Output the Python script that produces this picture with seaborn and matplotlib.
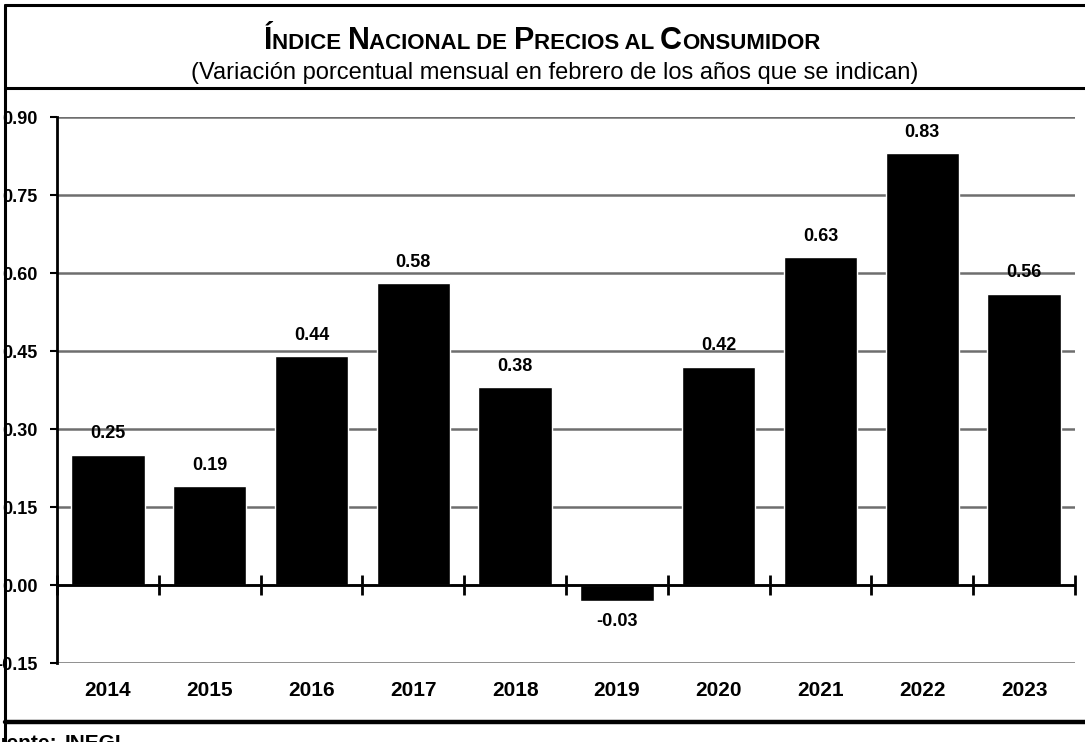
import matplotlib
matplotlib.use('Agg')
import matplotlib.pyplot as plt
import seaborn as sns
import pandas as pd
from matplotlib.lines import Line2D

# Datos: variacion porcentual mensual de febrero
years = ['2014', '2015', '2016', '2017', '2018', '2019', '2020', '2021', '2022', '2023']
values = [0.25, 0.19, 0.44, 0.58, 0.38, -0.03, 0.42, 0.63, 0.83, 0.56]
y_ticks = [-0.15, 0.00, 0.15, 0.30, 0.45, 0.60, 0.75, 0.90]

title = 'Índice Nacional de Precios al Consumidor'
subtitle = '(Variación porcentual mensual en febrero de los años que se indican)'
source = ['Fuente: ', 'INEGI.']

W, H = 1085, 742

sns.set_theme(style='white')
plt.rcParams['font.family'] = ['Liberation Sans', 'DejaVu Sans']
plt.rcParams['text.color'] = 'black'

fig = plt.figure(figsize=(W / 100, H / 100), dpi=100)
ax = fig.add_axes([57 / W, 79 / H, 1018 / W, 546 / H])

df = pd.DataFrame({'anio': years, 'valor': values})
sns.barplot(data=df, x='anio', y='valor', color='black', saturation=1,
            width=0.72, ax=ax, zorder=3)

ax.set_ylim(y_ticks[0], y_ticks[-1])
ax.set_yticks(y_ticks)
ax.set_yticklabels([f'{t:.2f}' for t in y_ticks], fontweight='bold')
ax.set_xlabel('')
ax.set_ylabel('')
ax.yaxis.grid(True, color='#6e6e6e', linewidth=1.8)
ax.set_axisbelow(True)
for s in ['top', 'right', 'bottom']:
    ax.spines[s].set_visible(False)
ax.spines['left'].set_color('black')
ax.spines['left'].set_linewidth(2)

ax.tick_params(axis='y', left=True, length=5, width=1.5, pad=9,
               labelsize=13, colors='black')
ax.tick_params(axis='x', length=0, pad=13, labelsize=15, colors='black')
for lab in ax.get_xticklabels():
    lab.set_fontweight('bold')

# linea del cero con marcas entre categorias
ax.axhline(0, color='black', linewidth=2, zorder=4)
zero_pos = (0 - y_ticks[0]) / (y_ticks[-1] - y_ticks[0])
sec = ax.secondary_xaxis(zero_pos)
sec.set_xticks([i - 0.5 for i in range(len(years) + 1)])
sec.set_xticklabels([])
sec.tick_params(direction='inout', length=14, width=2, colors='black')
sec.spines['bottom'].set_visible(False)
sec.spines['top'].set_visible(False)

ax.bar_label(ax.containers[0], labels=[f'{v:.2f}' for v in values],
             padding=9, fontweight='bold', fontsize=13, color='black')


# titulo en versalitas
def small_caps(text, y, big, small, xc):
    pieces = []
    for ch in text:
        size = big if ch.isupper() else small
        if pieces and pieces[-1][1] == size:
            pieces[-1][0] += ch.upper()
        else:
            pieces.append([ch.upper(), size])
    arts = [fig.text(0, y, p, fontsize=s, fontweight='bold', va='baseline')
            for p, s in pieces]
    fig.canvas.draw()
    r = fig.canvas.get_renderer()
    widths = [a.get_window_extent(r).width for a in arts]
    x = xc - sum(widths) / 2
    for a, w in zip(arts, widths):
        a.set_x(x / W)
        x += w


small_caps(title, 1 - 49 / H, 22, 16, 542)
fig.text(555 / W, 1 - 79 / H, subtitle, ha='center', va='baseline',
         fontsize=17)

fig.text(62 / W, 8 / H, source[0], ha='right', va='top', fontsize=15,
         fontweight='bold')
fig.text(65 / W, 8 / H, source[1], ha='left', va='top', fontsize=15,
         fontweight='bold')

# marco
frame = dict(color='black', transform=None)
fig.add_artist(Line2D([5, 5], [0, H - 5], linewidth=2.2, **frame))
fig.add_artist(Line2D([5, W], [H - 5, H - 5], linewidth=2.2, **frame))
fig.add_artist(Line2D([5, W], [H - 88, H - 88], linewidth=2.2, **frame))
fig.add_artist(Line2D([5, W], [H - 722, H - 722], linewidth=3.2, **frame))

fig.savefig('out.png', dpi=100, facecolor='white')
